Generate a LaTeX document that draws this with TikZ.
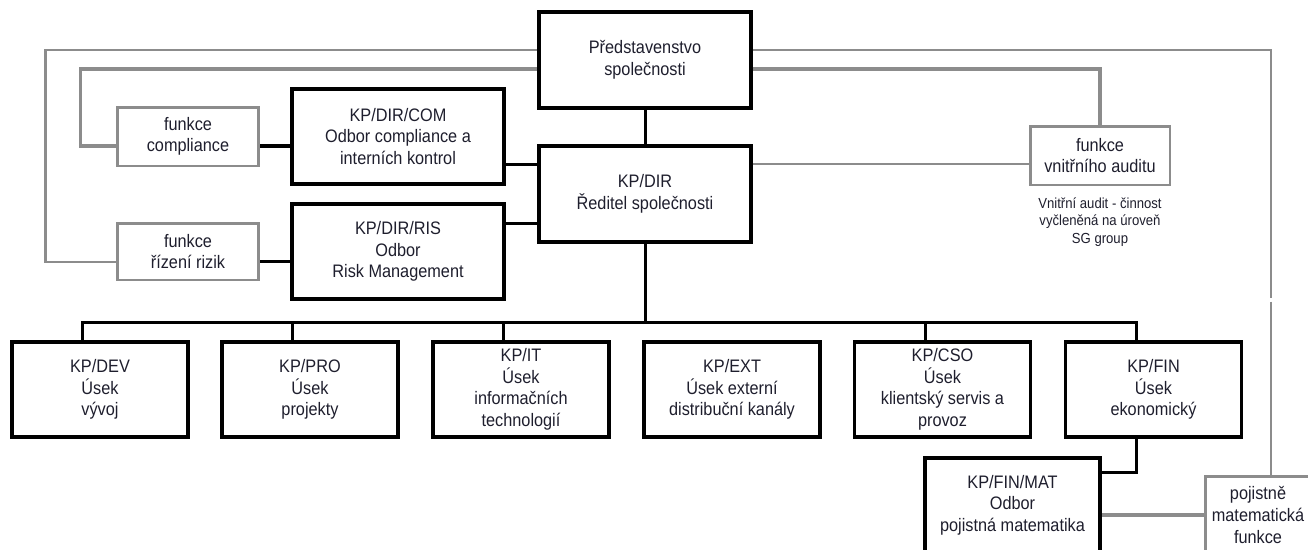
\documentclass[tikz,border=0pt]{standalone}
\usepackage{fontspec}
\setmainfont[FakeStretch=0.9]{Liberation Sans}
\usetikzlibrary{calc}
\definecolor{textcol}{RGB}{30,30,45}
\definecolor{linegray}{RGB}{140,140,140}

\begin{document}
\begin{tikzpicture}[x=0.02cm,y=-0.02cm,
    every node/.style={align=center,text=textcol,font=\fontsize{10.3}{12.3}\selectfont},
    unit/.style={draw=black,line width=2.2pt,minimum width=4.24cm,minimum height=1.92cm},
    dept/.style={unit,minimum width=3.52cm,minimum height=1.9cm},
    func/.style={draw=linegray,line width=1.7pt,minimum width=2.84cm,minimum height=1.18cm},
    link/.style={line width=1.7pt},
    glink/.style={draw=linegray,line width=1.5pt}]
  \useasboundingbox (0,0) rectangle (1308,549);
  \clip (0,0) rectangle (1308,549);
  % vedeni
  \node (board) at (645,60) [unit] {Představenstvo\\společnosti};
  \node (dir) at (645,194) [unit] {KP/DIR\\Ředitel společnosti};
  \node (com) at (398,136.5) [unit,minimum height=1.9cm] {KP/DIR/COM\\Odbor compliance a\\interních kontrol};
  \node (ris) at (398,251.5) [unit,minimum height=1.9cm] {KP/DIR/RIS\\Odbor\\Risk Management};
  % klicove funkce
  \node (fcom) at (188,136.5) [func] {funkce\\compliance};
  \node (fris) at (188,251.5) [func,minimum height=1.14cm] {funkce\\řízení rizik};
  \node (audit) at (1100,155.5) [func,minimum width=2.8cm] {funkce\\vnitřního auditu};
  \node (note) at (1100,222) [font=\fontsize{8.3}{10}\selectfont] {Vnitřní audit - činnost\\vyčleněná na úroveň\\SG group};
  % useky
  \node (dev) at (100,389.5) [dept] {KP/DEV\\Úsek\\vývoj};
  \node (pro) at (310,389.5) [dept] {KP/PRO\\Úsek\\projekty};
  \node (it) at (521,389.5) [dept] {KP/IT\\Úsek\\informačních\\technologií};
  \node (ext) at (732,389.5) [dept] {KP/EXT\\Úsek externí\\distribuční kanály};
  \node (cso) at (942.5,389.5) [dept] {KP/CSO\\Úsek\\klientský servis  a\\provoz};
  \node (fin) at (1153.5,389.5) [dept] {KP/FIN\\Úsek\\ekonomický};
  \node (mat) at (1012.5,505) [dept,minimum width=3.5cm,minimum height=1.88cm] {KP/FIN/MAT\\Odbor\\pojistná matematika};
  \node (act) at (1258,515) [func,minimum width=2.12cm,minimum height=1.56cm] {pojistně\\matematická\\funkce};

  % cerne linky
  \coordinate (bus) at (645,322);
  \draw[link] (board.south) -- (dir.north);
  \draw[link] (dir.south) -- (bus);
  \foreach \n in {dev,pro,it,cso,fin}
    \draw[link] ($(\n.north)+(-17.5,0)$) |- (bus);
  \draw[link] ($(fin.south)+(-17.5,0)$) |- ($(mat.north east)+(0,16)$);
  \draw[link] ($(com.east)+(0,27.5)$) coordinate (c1) -- (c1 -| dir.west);
  \draw[link] ($(ris.east)+(0,-28.5)$) coordinate (c2) -- (c2 -| dir.west);
  \draw[link,line width=2.2pt] ($(fcom.east)+(0,9.5)$) coordinate (c3) -- (c3 -| com.west);
  \draw[link] ($(fris.east)+(0,9.5)$) coordinate (c4) -- (c4 -| ris.west);

  % sede linky
  \draw[glink] ($(board.west)+(0,-10)$) -| ($(fris.west)+(-70,10.5)$) -- ($(fris.west)+(0,10.5)$);
  \draw[glink,line width=2.2pt] ($(board.west)+(0,9)$) -| ($(fcom.west)+(-35,9.5)$) -- ($(fcom.west)+(0,9.5)$);
  \draw[glink] ($(board.east)+(0,-10)$) -| ($(act.north)+(13,-177)$);
  \draw[glink] ($(act.north)+(13,-173)$) -- ($(act.north)+(13,0)$);
  \draw[glink,line width=2.2pt] ($(board.east)+(0,9)$) -| (audit.north);
  \draw[glink] ($(dir.east)+(0,-30)$) coordinate (c5) -- (c5 -| audit.west);
  \draw[glink,line width=2.2pt] ($(mat.east)+(0,10)$) coordinate (c6) -- (c6 -| act.west);
\end{tikzpicture}
\end{document}
